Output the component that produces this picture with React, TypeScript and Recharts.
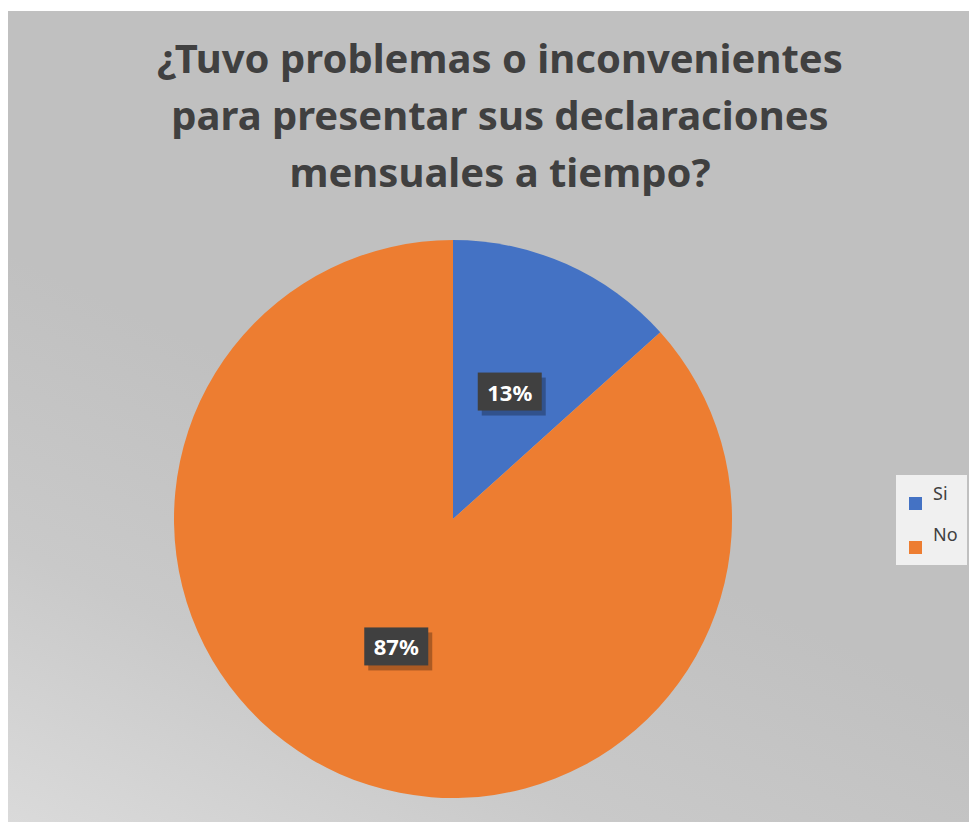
import React from 'react';
import { PieChart, Pie, Cell, Legend } from 'recharts';

const categories = ['Si', 'No'];
const counts = [4, 26];
const colors = ['#4472C4', '#ED7D31'];
const titleLines = [
  '¿Tuvo problemas o inconvenientes',
  'para presentar sus declaraciones',
  'mensuales a tiempo?',
];

const data = categories.map((name, i) => ({ name, value: counts[i] }));

const RAD = Math.PI / 180;

const renderLabel = (props: any) => {
  const { cx, cy, midAngle, outerRadius, percent } = props;
  const r = outerRadius * 0.5;
  const x = cx + r * Math.cos(-midAngle * RAD);
  const y = cy + r * Math.sin(-midAngle * RAD);
  const w = 64;
  const h = 38;
  return (
    <g>
      <rect x={x - w / 2 + 4} y={y - h / 2 + 5} width={w} height={h} fill="rgba(0,0,0,0.28)" />
      <rect x={x - w / 2} y={y - h / 2} width={w} height={h} fill="#404040" />
      <text
        x={x}
        y={y}
        fill="#ffffff"
        textAnchor="middle"
        dominantBaseline="central"
        fontFamily="'Noto Sans', sans-serif"
        fontWeight="bold"
        fontSize={22}
      >
        {`${Math.round(percent * 100)}%`}
      </text>
    </g>
  );
};

const renderLegend = () => (
  <div
    style={{
      background: '#f0f0f0',
      width: 71,
      height: 90,
      boxSizing: 'border-box',
      padding: '6px 0 0 13px',
      fontFamily: "'Noto Sans', sans-serif",
      fontSize: 18,
      color: '#404040',
    }}
  >
    {categories.map((c, i) => (
      <div key={c} style={{ display: 'flex', alignItems: 'center', height: 40 }}>
        <span style={{ width: 13, height: 13, background: colors[i], display: 'inline-block', marginRight: 11, marginTop: i === 0 ? 4 : 12 }} />
        <span style={{ marginTop: i === 0 ? -16 : -14 }}>{c}</span>
      </div>
    ))}
  </div>
);

export default function App() {
  return (
    <div
      style={{
        position: 'relative',
        width: 969,
        height: 811,
        marginTop: 3,
        background: 'linear-gradient(25deg, #dadada 0%, #c9c9c9 22%, #c0c0c0 45%, #c0c0c0 100%)',
      }}
    >
      <div
        style={{
          position: 'absolute',
          left: 0,
          top: 18,
          width: 984,
          textAlign: 'center',
          fontFamily: "'Noto Sans', sans-serif",
          fontWeight: 'bold',
          fontSize: 40,
          lineHeight: '57px',
          color: '#404040',
        }}
      >
        {titleLines.map((l) => (
          <div key={l}>{l}</div>
        ))}
      </div>
      <PieChart width={969} height={811} style={{ position: 'absolute', left: 0, top: 0 }}>
        <Pie
          data={data}
          dataKey="value"
          nameKey="name"
          cx={440}
          cy={503}
          outerRadius={279}
          startAngle={90}
          endAngle={-270}
          stroke="none"
          label={renderLabel}
          labelLine={false}
          isAnimationActive={false}
        >
          {data.map((d, i) => (
            <Cell key={d.name} fill={colors[i]} />
          ))}
        </Pie>
        <Legend
          content={renderLegend}
          layout="vertical"
          wrapperStyle={{ position: 'absolute', left: 888, top: 464, width: 71 }}
        />
      </PieChart>
    </div>
  );
}
